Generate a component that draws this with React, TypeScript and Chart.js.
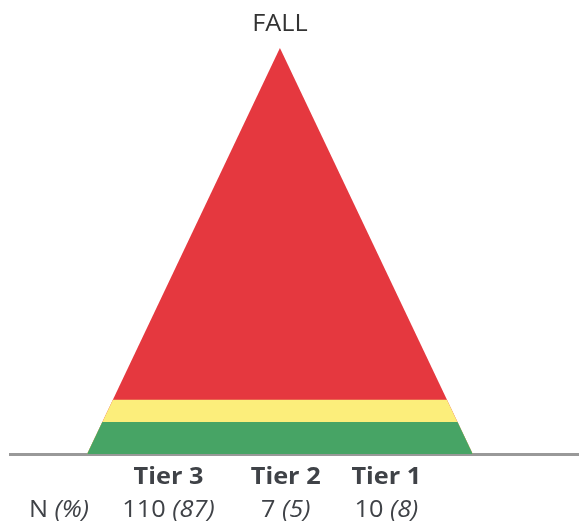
import React, { useEffect, useRef } from 'react';
import { Chart, registerables } from 'chart.js';

Chart.register(...registerables);

// ---- data ----
const chartTitle = 'FALL';
const tiers = ['Tier 3', 'Tier 2', 'Tier 1'];
const counts = [110, 7, 10];
const percents = [87, 5, 8];
const rowLabel = 'N';
const rowLabelUnit = '(%)';
const tierColors = ['#E5383F', '#FCEE7B', '#47A465'];

// ---- layout (x-scale units; pyramid base half-width = 50) ----
const X_MIN = -70;
const X_MAX = 77.3;
const COL_X = [-28.9, 1.5, 27.6];
const ROW_LABEL_X = -57.3;
const TEXT_COLOR = '#3f4247';
const FONT = '"Open Sans", "DejaVu Sans", sans-serif';
const FONT_SIZE = 23;
const STRETCH = 1.1;

const halfWidth = (h: number) => 50 * (1 - h / 100);

function buildDatasets() {
  const total = counts.reduce((a, b) => a + b, 0);
  const n = tiers.length;
  const tops: number[] = new Array(n).fill(0);
  let cum = 0;
  for (let i = n - 1; i >= 0; i--) {
    cum += (counts[i] / total) * 100;
    tops[i] = i === 0 ? 100 : cum;
  }
  return tiers.map((t, i) => {
    const top = tops[i];
    return {
      label: t,
      data: [
        { x: -halfWidth(0), y: 0 },
        { x: -halfWidth(top), y: top },
        { x: halfWidth(top), y: top },
        { x: halfWidth(0), y: 0 },
      ],
      backgroundColor: tierColors[i],
      borderColor: tierColors[i],
      borderWidth: 0,
      pointRadius: 0,
      tension: 0,
      fill: 'origin',
      order: n - 1 - i,
    };
  });
}

type Run = { text: string; italic?: boolean; bold?: boolean };

function drawRuns(ctx: CanvasRenderingContext2D, runs: Run[], cx: number, y: number, color: string) {
  const fontFor = (r: Run) => `${r.italic ? 'italic ' : ''}${r.bold ? 'bold ' : ''}${FONT_SIZE}px ${FONT}`;
  let total = 0;
  const widths = runs.map((r) => {
    ctx.font = fontFor(r);
    const w = ctx.measureText(r.text).width;
    total += w;
    return w;
  });
  ctx.save();
  ctx.translate(cx, y);
  ctx.scale(STRETCH, 1);
  ctx.fillStyle = color;
  ctx.textAlign = 'left';
  ctx.textBaseline = 'alphabetic';
  let x = -total / 2;
  runs.forEach((r, i) => {
    ctx.font = fontFor(r);
    ctx.fillText(r.text, x, 0);
    x += widths[i];
  });
  ctx.restore();
}

const tableLabels = {
  id: 'tableLabels',
  afterDraw(chart: any) {
    const { ctx, chartArea } = chart;
    const xs = chart.scales.x;
    ctx.save();
    drawRuns(ctx, [{ text: chartTitle }], xs.getPixelForValue(0), chartArea.top - 17, '#333333');
    const tierY = chartArea.bottom + 30;
    const valY = chartArea.bottom + 63;
    tiers.forEach((t, i) => {
      drawRuns(ctx, [{ text: t, bold: true }], xs.getPixelForValue(COL_X[i]), tierY, TEXT_COLOR);
      drawRuns(
        ctx,
        [{ text: `${counts[i]} ` }, { text: `(${percents[i]})`, italic: true }],
        xs.getPixelForValue(COL_X[i]),
        valY,
        TEXT_COLOR
      );
    });
    drawRuns(
      ctx,
      [{ text: `${rowLabel} ` }, { text: rowLabelUnit, italic: true }],
      xs.getPixelForValue(ROW_LABEL_X),
      valY,
      TEXT_COLOR
    );
    ctx.restore();
  },
};

export default function App() {
  const ref = useRef<HTMLCanvasElement | null>(null);
  useEffect(() => {
    if (!ref.current) return;
    const chart = new Chart(ref.current, {
      type: 'line',
      data: { datasets: buildDatasets() as any },
      options: {
        animation: false,
        responsive: false,
        layout: { padding: { left: 10, right: 1, top: 48, bottom: 69 } },
        plugins: {
          legend: { display: false },
          tooltip: { enabled: false },
          title: { display: false },
        },
        scales: {
          x: {
            type: 'linear',
            min: X_MIN,
            max: X_MAX,
            grid: { display: false, drawTicks: false, tickLength: 0 },
            ticks: { display: false },
            border: { display: true, color: '#999999', width: 3 },
          },
          y: {
            min: 0,
            max: 100,
            display: false,
          },
        },
      },
      plugins: [tableLabels],
    });
    return () => chart.destroy();
  }, []);
  return (
    <div style={{ position: 'absolute', left: 0, top: 0, width: 579, height: 523 }}>
      <canvas ref={ref} width={579} height={523} />
    </div>
  );
}
